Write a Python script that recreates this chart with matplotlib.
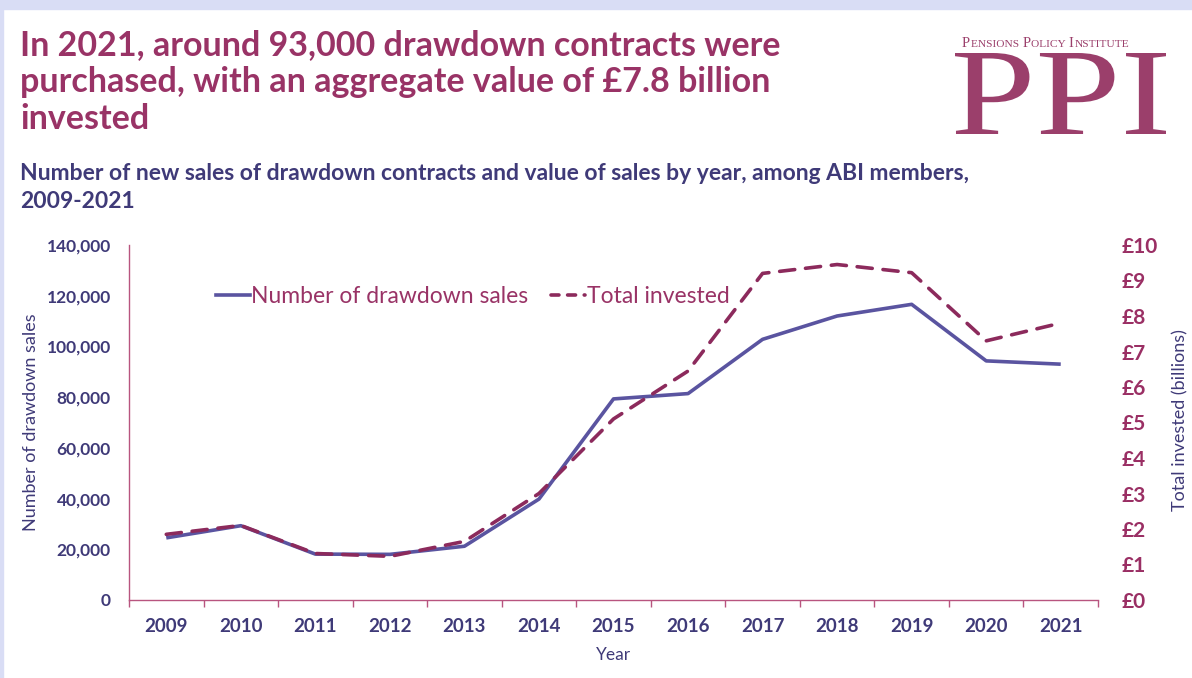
import matplotlib.pyplot as plt
from matplotlib.patches import Rectangle, PathPatch
from matplotlib.textpath import TextPath
from matplotlib.font_manager import FontProperties
from matplotlib.transforms import Affine2D
from matplotlib.lines import Line2D

plt.rcParams['font.family'] = ['Lato', 'DejaVu Sans']

years = ['2009', '2010', '2011', '2012', '2013', '2014', '2015',
         '2016', '2017', '2018', '2019', '2020', '2021']
sales = [24500, 29300, 18100, 18000, 21200, 39800, 79300,
         81400, 102800, 112000, 116600, 94300, 93000]
invested = [1.85, 2.10, 1.31, 1.23, 1.65, 3.0, 5.1,
            6.45, 9.2, 9.45, 9.22, 7.3, 7.8]
left_ticks = [0, 20000, 40000, 60000, 80000, 100000, 120000, 140000]
right_ticks = list(range(0, 11))

W, H = 1192, 678
maroon = '#993366'
navy = '#3F3A78'
line_blue = '#5A54A0'
dash_red = '#8C2A5C'
spine_pink = '#B8557F'

fig = plt.figure(figsize=(W / 100, H / 100), dpi=100)

# lavender frame at top and left edge
fig.patches.append(Rectangle((0, 1 - 9 / H), 1, 9 / H, transform=fig.transFigure,
                             color='#D9DDF5', zorder=0))
fig.patches.append(Rectangle((0, 0), 3 / W, 1, transform=fig.transFigure,
                             color='#D9DDF5', zorder=0))

# headline + subtitle
fig.text(20 / W, 1 - 29 / H,
         'In 2021, around 93,000 drawdown contracts were\n'
         'purchased, with an aggregate value of £7.8 billion\ninvested',
         color=maroon, fontsize=24.5, fontweight='bold', va='top', ha='left',
         linespacing=1.2)
fig.text(20 / W, 1 - 163 / H,
         'Number of new sales of drawdown contracts and value of sales by year, among ABI members,\n'
         '2009-2021',
         color=navy, fontsize=16.5, fontweight='bold', va='top', ha='left',
         linespacing=1.4)

# logo: big PPI drawn as a stretched path
logo_col = '#9B3F6B'
tp = TextPath((0, 0), 'PPI', size=1, prop=FontProperties(family='Liberation Serif'))
ext = tp.get_extents()
x0, y0, x1, y1 = 955, 53, 1166, 134
sx = (x1 - x0) / W / ext.width
sy = (y1 - y0) / H / ext.height
tr = Affine2D().translate(-ext.x0, -ext.y0).scale(sx, sy).translate(x0 / W, 1 - y1 / H)
fig.patches.append(PathPatch(tp, transform=tr + fig.transFigure, color=logo_col, lw=0))

# small caps line above
pieces = [('P', 10.5), ('ENSIONS ', 8.2), ('P', 10.5), ('OLICY ', 8.2),
          ('I', 10.5), ('NSTITUTE', 8.2)]
renderer = fig.canvas.get_renderer()
xpos = 962
for txt, size in pieces:
    t = fig.text(xpos / W, 1 - 47 / H, txt, fontsize=size, color=logo_col,
                 family='Liberation Serif', ha='left', va='baseline')
    xpos += t.get_window_extent(renderer).width + 0.6

# chart
ax = fig.add_axes([129 / W, 1 - 600 / H, (1098 - 129) / W, (600 - 245) / H])
ax2 = ax.twinx()
x = list(range(len(years)))
ax.plot(x, sales, color=line_blue, lw=2.6, solid_capstyle='butt')
ax2.plot(x, invested, color=dash_red, lw=2.6, dashes=(4.2, 3.0), dash_capstyle='round')

ax.set_xlim(-0.5, len(years) - 0.5)
ax.set_ylim(0, 140000)
ax2.set_ylim(0, 10)
ax.set_yticks(left_ticks)
ax.set_yticklabels([f'{v:,}' for v in left_ticks])
ax2.set_yticks(right_ticks)
ax2.set_yticklabels([f'£{v}' for v in right_ticks])
ax.set_xticks(x)
ax.set_xticklabels(years)
ax.set_xticks([i - 0.5 for i in range(len(years) + 1)], minor=True)

for a in (ax, ax2):
    for s in a.spines.values():
        s.set_visible(False)
ax.spines['left'].set_visible(True)
ax.spines['bottom'].set_visible(True)
ax.spines['left'].set_color(spine_pink)
ax.spines['bottom'].set_color(spine_pink)
ax.spines['left'].set_linewidth(1.0)
ax.spines['bottom'].set_linewidth(1.0)

ax.tick_params(axis='y', length=0, pad=13, labelsize=12.5, labelcolor=navy)
ax.tick_params(axis='x', which='major', length=0, pad=13, labelsize=13.5, labelcolor=navy)
ax.tick_params(axis='x', which='minor', length=5, width=1, color=spine_pink, direction='out')
ax2.tick_params(axis='y', length=0, pad=17, labelsize=15, labelcolor='#9A2F64')
for lbl in ax.get_xticklabels() + ax.get_yticklabels() + ax2.get_yticklabels():
    lbl.set_fontweight('bold')

fig.text(31 / W, 1 - 422 / H, 'Number of drawdown sales', rotation=90, color=navy,
         fontsize=13, ha='center', va='center')
fig.text(1180 / W, 1 - 420 / H, 'Total invested (billions)', rotation=90, color=navy,
         fontsize=13, ha='center', va='center')
fig.text(613 / W, 1 - 655 / H, 'Year', color=navy, fontsize=12.5, ha='center', va='center')

handles = [Line2D([], [], color=line_blue, lw=2.6),
           Line2D([], [], color=dash_red, lw=2.6, dashes=(2.2, 2.4), dash_capstyle='round')]
ax2.legend(handles, ['Number of drawdown sales', 'Total invested'], loc='center left',
           bbox_to_anchor=(0.068, 0.854), ncol=2, frameon=False, fontsize=16.5,
           labelcolor=maroon, handlelength=1.5, handletextpad=0.05, columnspacing=1.0)

fig.savefig('out.png', dpi=100)
